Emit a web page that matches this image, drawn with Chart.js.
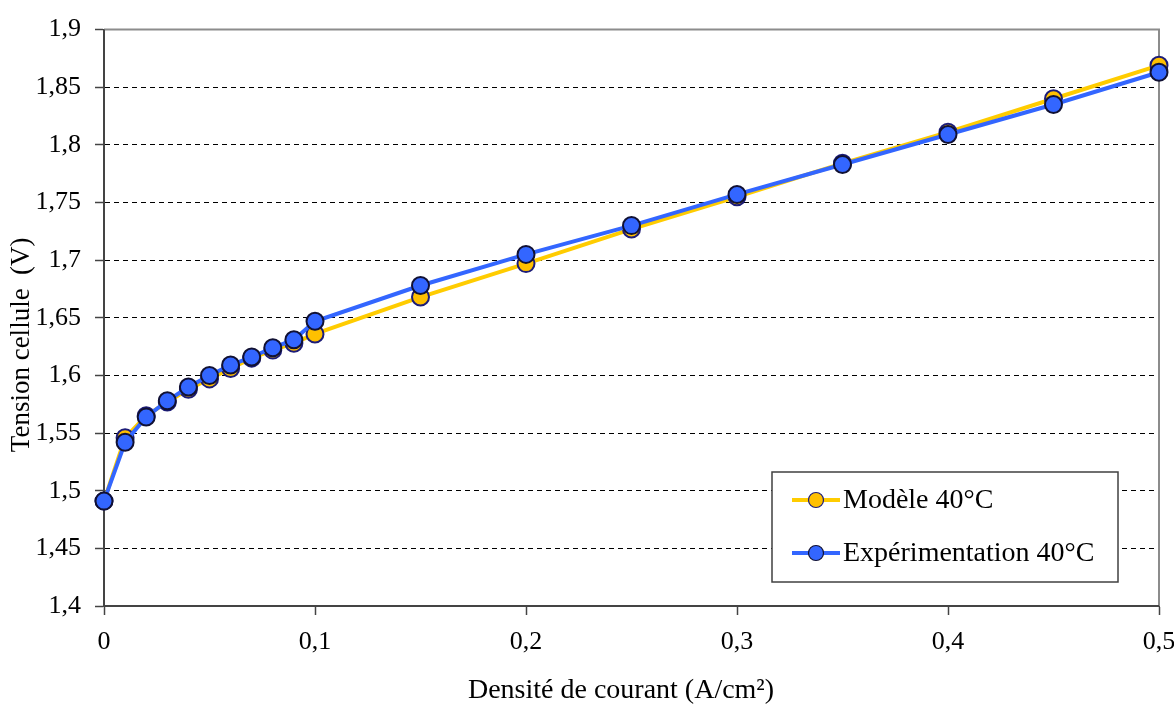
<!DOCTYPE html>
<html>
<head>
<meta charset="utf-8">
<script src="https://cdn.jsdelivr.net/npm/chart.js@4/dist/chart.umd.min.js"></script>
<style>
  body { margin: 0; background: #fff; }
  #wrap { width: 1174px; height: 709px; position: relative; }
</style>
</head>
<body>
<div id="wrap"><canvas id="myGraph"></canvas></div>
<script>
// current density (A/cm²)
const currentDensity = [0, 0.01, 0.02, 0.03, 0.04, 0.05, 0.06, 0.07, 0.08, 0.09, 0.1,
  0.15, 0.2, 0.25, 0.3, 0.35, 0.4, 0.45, 0.5];
// cell voltage (V)
const modelVoltage = [1.491, 1.546, 1.565, 1.577, 1.588, 1.597, 1.606, 1.615, 1.622, 1.628, 1.636,
  1.668, 1.697, 1.727, 1.755, 1.784, 1.811, 1.840, 1.869];
const expVoltage = [1.491, 1.542, 1.564, 1.578, 1.590, 1.600, 1.609, 1.616, 1.624, 1.631, 1.647,
  1.678, 1.705, 1.730, 1.757, 1.783, 1.809, 1.835, 1.863];
const seriesNames = ["Modèle 40°C", "Expérimentation 40°C"];
// trailing spaces shift the titles like in the original sheet
const xTitle = "Densité de courant (A/cm²)   ";
const yTitle = "Tension cellule  (V)        ";

const font = "'Liberation Serif', 'Times New Roman', serif";

function toPoints(ys) {
  return currentDensity.map((x, i) => ({ x: x, y: ys[i] }));
}

function fmt(v) {
  return parseFloat(v.toFixed(2)).toString().replace(".", ",");
}

// solid frame round the plot area (grid dash would otherwise apply)
const frame = {
  id: "frame",
  beforeDatasetsDraw(chart) {
    const { ctx, chartArea: a } = chart;
    ctx.save();
    ctx.setLineDash([]);
    ctx.lineWidth = 2;
    ctx.strokeStyle = "#8c8c8c";
    ctx.beginPath();
    ctx.moveTo(a.left, a.top);
    ctx.lineTo(a.right, a.top);
    ctx.lineTo(a.right, a.bottom);
    ctx.stroke();
    ctx.strokeStyle = "#444";
    ctx.beginPath();
    ctx.moveTo(a.left, a.top);
    ctx.lineTo(a.left, a.bottom);
    ctx.lineTo(a.right, a.bottom);
    ctx.stroke();
    ctx.restore();
  },
};

// boxed legend inside the plot
const boxLegend = {
  id: "boxLegend",
  afterDraw(chart) {
    const ctx = chart.ctx;
    const x0 = 772, y0 = 472, w = 346, h = 110;
    ctx.save();
    ctx.fillStyle = "#fff";
    ctx.fillRect(x0, y0, w, h);
    ctx.strokeStyle = "#404040";
    ctx.lineWidth = 1.5;
    ctx.strokeRect(x0, y0, w, h);
    chart.data.datasets.forEach((ds, i) => {
      const cy = y0 + 28 + i * 53;
      ctx.strokeStyle = ds.borderColor;
      ctx.lineWidth = 4;
      ctx.beginPath();
      ctx.moveTo(x0 + 20, cy);
      ctx.lineTo(x0 + 68, cy);
      ctx.stroke();
      ctx.beginPath();
      ctx.arc(x0 + 44, cy, 7.5, 0, Math.PI * 2);
      ctx.fillStyle = ds.pointBackgroundColor;
      ctx.fill();
      ctx.strokeStyle = ds.pointBorderColor;
      ctx.lineWidth = 1.2;
      ctx.stroke();
      ctx.fillStyle = "#000";
      ctx.font = "28px " + font;
      ctx.textBaseline = "middle";
      ctx.fillText(ds.label, x0 + 71, cy + 1);
    });
    ctx.restore();
  },
};

new Chart(document.getElementById("myGraph"), {
  type: "line",
  data: {
    datasets: [
      {
        label: seriesNames[0],
        data: toPoints(modelVoltage),
        borderColor: "#ffcc00",
        backgroundColor: "#ffc000",
        pointBackgroundColor: "#ffc000",
        pointBorderColor: "#1c1c78",
        borderWidth: 4,
        pointRadius: 8.5,
        pointBorderWidth: 2,
        clip: false,
        order: 1,
      },
      {
        label: seriesNames[1],
        data: toPoints(expVoltage),
        borderColor: "#3366ff",
        backgroundColor: "#3366ff",
        pointBackgroundColor: "#3366ff",
        pointBorderColor: "#111133",
        borderWidth: 4,
        pointRadius: 8.5,
        pointBorderWidth: 2,
        clip: false,
        order: 0,
      },
    ],
  },
  options: {
    responsive: true,
    maintainAspectRatio: false,
    animation: false,
    layout: { padding: { top: 27, right: 15, left: 0, bottom: 0 } },
    plugins: { legend: { display: false }, tooltip: { enabled: false } },
    scales: {
      x: {
        type: "linear",
        min: 0,
        max: 0.5,
        afterFit: (s) => {
          s.height = 103;
          s.paddingLeft = 0;
          s.paddingRight = 0;
        },
        ticks: {
          stepSize: 0.1,
          color: "#000",
          padding: 12,
          font: { family: font, size: 26 },
          callback: (v) => fmt(v),
        },
        grid: {
          drawOnChartArea: false,
          tickLength: 9,
          tickColor: "#444",
          tickWidth: 1.5,
        },
        border: { color: "#444", width: 2 },
        title: {
          display: true,
          text: xTitle,
          color: "#000",
          font: { family: font, size: 28 },
          padding: { top: 0, bottom: 2 },
        },
      },
      y: {
        min: 1.4,
        max: 1.9,
        afterFit: (s) => { s.width = 104; },
        ticks: {
          stepSize: 0.05,
          color: "#000",
          padding: 14,
          font: { family: font, size: 26 },
          callback: (v) => fmt(v),
        },
        grid: {
          color: "#000",
          lineWidth: 1,
          tickLength: 9,
          tickColor: "#444",
          tickWidth: 1.5,
          tickBorderDash: [],
        },
        border: { color: "#444", width: 2, dash: [5, 4] },
        title: {
          display: true,
          text: yTitle,
          color: "#000",
          font: { family: font, size: 27 },
          padding: { top: 6, bottom: 0 },
        },
      },
    },
  },
  plugins: [frame, boxLegend],
});
</script>
</body>
</html>
